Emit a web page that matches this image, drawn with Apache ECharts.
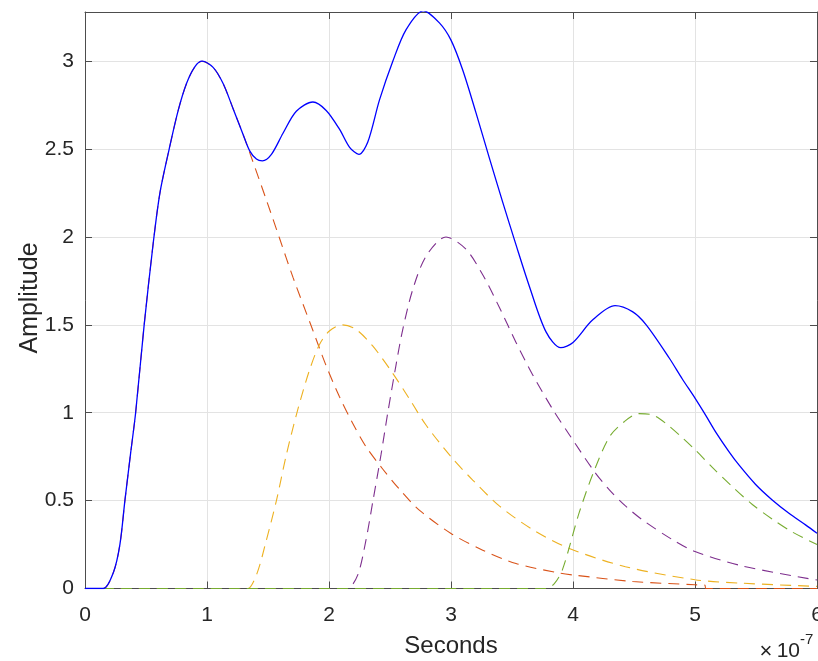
<!DOCTYPE html>
<html>
<head>
<meta charset="utf-8">
<script src="https://cdn.jsdelivr.net/npm/echarts@6/dist/echarts.min.js"></script>
<style>
html,body{margin:0;padding:0;background:#ffffff;}
#chart{width:818px;height:661px;}
</style>
</head>
<body>
<div id="chart"></div>
<script>
// Time values are in units of 1e-7 seconds (axis shows "x10^-7")
const xTicks = [0, 1, 2, 3, 4, 5, 6];
const yTicks = [0, 0.5, 1, 1.5, 2, 2.5, 3];
const xExponentLabel = '-7';

// Blue solid: total signal
const totalT = [0, 0.15, 0.232, 0.286, 0.327, 0.374, 0.415, 0.485, 0.56, 0.614, 0.69, 0.764, 0.832, 0.90, 0.96, 1.05, 1.132, 1.214, 1.295, 1.35, 1.405, 1.454, 1.528, 1.623, 1.732, 1.868, 1.977, 2.087, 2.169, 2.245, 2.318, 2.414, 2.523, 2.632, 2.774, 2.905, 3.0, 3.096, 3.205, 3.314, 3.423, 3.533, 3.642, 3.779, 3.90, 4.0, 4.16, 4.345, 4.487, 4.60, 4.79, 4.896, 5.0, 5.088, 5.17, 5.278, 5.36, 5.497, 5.633, 5.77, 5.906, 6.0];
const totalY = [0, 0, 0.09, 0.25, 0.5, 0.77, 1.0, 1.5, 1.97, 2.25, 2.5, 2.72, 2.873, 2.968, 3.0, 2.965, 2.873, 2.73, 2.585, 2.49, 2.443, 2.433, 2.47, 2.59, 2.715, 2.768, 2.72, 2.612, 2.51, 2.47, 2.54, 2.78, 3.0, 3.18, 3.287, 3.218, 3.12, 2.95, 2.706, 2.45, 2.2, 1.955, 1.72, 1.46, 1.37, 1.40, 1.527, 1.609, 1.575, 1.5, 1.31, 1.192, 1.083, 0.985, 0.89, 0.779, 0.703, 0.592, 0.504, 0.428, 0.362, 0.314];

// Echo 1 (orange-red dashed)
const echo1T = [0, 0.15, 0.232, 0.286, 0.327, 0.374, 0.415, 0.485, 0.56, 0.614, 0.69, 0.764, 0.832, 0.90, 0.96, 1.05, 1.132, 1.214, 1.295, 1.35, 1.487, 1.596, 1.705, 1.866, 1.975, 2.085, 2.194, 2.303, 2.44, 2.577, 2.74, 3.0, 3.26, 3.533, 3.888, 4.0, 4.49, 5.0, 5.08, 5.09, 6.0];
const echo1Y = [0, 0, 0.09, 0.25, 0.5, 0.77, 1.0, 1.5, 1.97, 2.25, 2.5, 2.72, 2.873, 2.968, 3.0, 2.965, 2.873, 2.73, 2.585, 2.48, 2.21, 1.99, 1.77, 1.472, 1.27, 1.092, 0.94, 0.807, 0.68, 0.565, 0.446, 0.313, 0.218, 0.142, 0.088, 0.077, 0.04, 0.021, 0.019, 0, 0];

// Echo 2 (yellow dashed)
const echo2T = [0, 1.30, 1.336, 1.41, 1.487, 1.569, 1.65, 1.745, 1.839, 1.92, 2.003, 2.112, 2.22, 2.358, 2.522, 2.658, 2.795, 3.0, 3.178, 3.396, 3.67, 3.97, 4.43, 5.0, 5.39, 6.0];
const echo2Y = [0, 0, 0, 0.086, 0.276, 0.5, 0.76, 1.02, 1.24, 1.385, 1.465, 1.5, 1.475, 1.38, 1.225, 1.08, 0.93, 0.75, 0.617, 0.47, 0.335, 0.228, 0.124, 0.05, 0.03, 0.012];

// Echo 3 (purple dashed)
const echo3T = [0, 2.12, 2.153, 2.235, 2.303, 2.358, 2.426, 2.481, 2.549, 2.604, 2.686, 2.795, 2.959, 3.123, 3.26, 3.396, 3.533, 3.67, 3.833, 3.97, 4.17, 4.30, 4.43, 4.57, 4.81, 5.0, 5.39, 6.0];
const echo3Y = [0, 0, 0, 0.076, 0.275, 0.49, 0.76, 0.997, 1.27, 1.472, 1.70, 1.89, 2.0, 1.93, 1.785, 1.60, 1.40, 1.215, 1.02, 0.875, 0.67, 0.56, 0.47, 0.39, 0.28, 0.21, 0.128, 0.048];

// Echo 4 (green dashed)
const echo4T = [0, 3.75, 3.779, 3.847, 3.915, 4.05, 4.17, 4.30, 4.42, 4.54, 4.65, 4.76, 4.896, 5.0, 5.14, 5.305, 5.47, 5.633, 5.796, 6.0];
const echo4Y = [0, 0, 0, 0.028, 0.11, 0.43, 0.664, 0.864, 0.949, 0.995, 0.988, 0.94, 0.858, 0.79, 0.69, 0.58, 0.478, 0.395, 0.322, 0.25];

function pairs(t, y) { return t.map((v, i) => [v, y[i]]); }

const FONT = '"Liberation Sans", Arial, Helvetica, sans-serif';
const AXIS_COLOR = '#4d4d4d';
const TEXT_COLOR = '#262626';
const GRID_COLOR = '#e3e3e3';

const chart = echarts.init(document.getElementById('chart'), null, {renderer: 'canvas'});

const dashed = (name, data, color) => ({
  name: name, type: 'line', data: data, showSymbol: false, symbol: 'none',
  smooth: 0.3, clip: true,
  lineStyle: {color: color, width: 1.1, type: [11, 7]},
  emphasis: {disabled: true}
});

const option = {
  animation: false,
  backgroundColor: '#ffffff',
  grid: {left: 85, top: 12, width: 732, height: 576.5, containLabel: false, outerBoundsMode: 'none'},
  xAxis: [
    {
      type: 'value', min: xTicks[0], max: xTicks[xTicks.length - 1], interval: 1,
      position: 'bottom',
      axisLine: {show: true, onZero: false, lineStyle: {color: AXIS_COLOR, width: 1}},
      axisTick: {show: true, inside: true, length: 7, lineStyle: {color: AXIS_COLOR}},
      axisLabel: {show: true, margin: 16, color: TEXT_COLOR, fontSize: 21, fontFamily: FONT,
        formatter: v => xTicks.includes(v) ? String(v) : ''},
      splitLine: {show: true, lineStyle: {color: GRID_COLOR, width: 1}}
    },
    {
      type: 'value', min: xTicks[0], max: xTicks[xTicks.length - 1], interval: 1,
      position: 'top',
      axisLine: {show: true, onZero: false, lineStyle: {color: AXIS_COLOR, width: 1}},
      axisTick: {show: true, inside: true, length: 7, lineStyle: {color: AXIS_COLOR}},
      axisLabel: {show: false},
      splitLine: {show: false}
    }
  ],
  yAxis: [
    {
      type: 'value', min: 0, max: 3.28, interval: 0.5,
      position: 'left',
      axisLine: {show: true, onZero: false, lineStyle: {color: AXIS_COLOR, width: 1}},
      axisTick: {show: true, inside: true, length: 7, lineStyle: {color: AXIS_COLOR}},
      axisLabel: {show: true, margin: 11, color: TEXT_COLOR, fontSize: 21, fontFamily: FONT,
        formatter: v => yTicks.some(t => Math.abs(t - v) < 1e-9) ? String(v) : ''},
      splitLine: {show: true, lineStyle: {color: GRID_COLOR, width: 1}}
    },
    {
      type: 'value', min: 0, max: 3.28, interval: 0.5,
      position: 'right',
      axisLine: {show: true, onZero: false, lineStyle: {color: AXIS_COLOR, width: 1}},
      axisTick: {show: true, inside: true, length: 7, lineStyle: {color: AXIS_COLOR}},
      axisLabel: {show: false},
      splitLine: {show: false}
    }
  ],
  graphic: [
    {type: 'text', x: 451, y: 646, style: {text: 'Seconds', fill: TEXT_COLOR, font: '24px ' + FONT, textAlign: 'center', textVerticalAlign: 'middle'}},
    {type: 'text', x: 30, y: 298, rotation: Math.PI / 2, style: {text: 'Amplitude', fill: TEXT_COLOR, font: '25px ' + FONT, textAlign: 'center', textVerticalAlign: 'middle'}},
    {type: 'text', x: 766, y: 652, style: {text: '\u00d7', fill: TEXT_COLOR, font: '22px ' + FONT, textAlign: 'center', textVerticalAlign: 'middle'}},
    {type: 'text', x: 800, y: 651, style: {text: '10', fill: TEXT_COLOR, font: '21px ' + FONT, textAlign: 'right', textVerticalAlign: 'middle'}},
    {type: 'text', x: 800, y: 640, style: {text: xExponentLabel, fill: TEXT_COLOR, font: '15px ' + FONT, textAlign: 'left', textVerticalAlign: 'middle'}}
  ],
  series: [
    dashed('Echo 1', pairs(echo1T, echo1Y), '#D95319'),
    dashed('Echo 2', pairs(echo2T, echo2Y), '#EDB120'),
    dashed('Echo 3', pairs(echo3T, echo3Y), '#7E2F8E'),
    dashed('Echo 4', pairs(echo4T, echo4Y), '#77AC30'),
    {
      name: 'Total', type: 'line', data: pairs(totalT, totalY), showSymbol: false, symbol: 'none',
      smooth: 0.3, clip: true,
      lineStyle: {color: '#0000FF', width: 1.3, type: 'solid'},
      emphasis: {disabled: true}
    }
  ]
};
chart.setOption(option);
</script>
</body>
</html>
